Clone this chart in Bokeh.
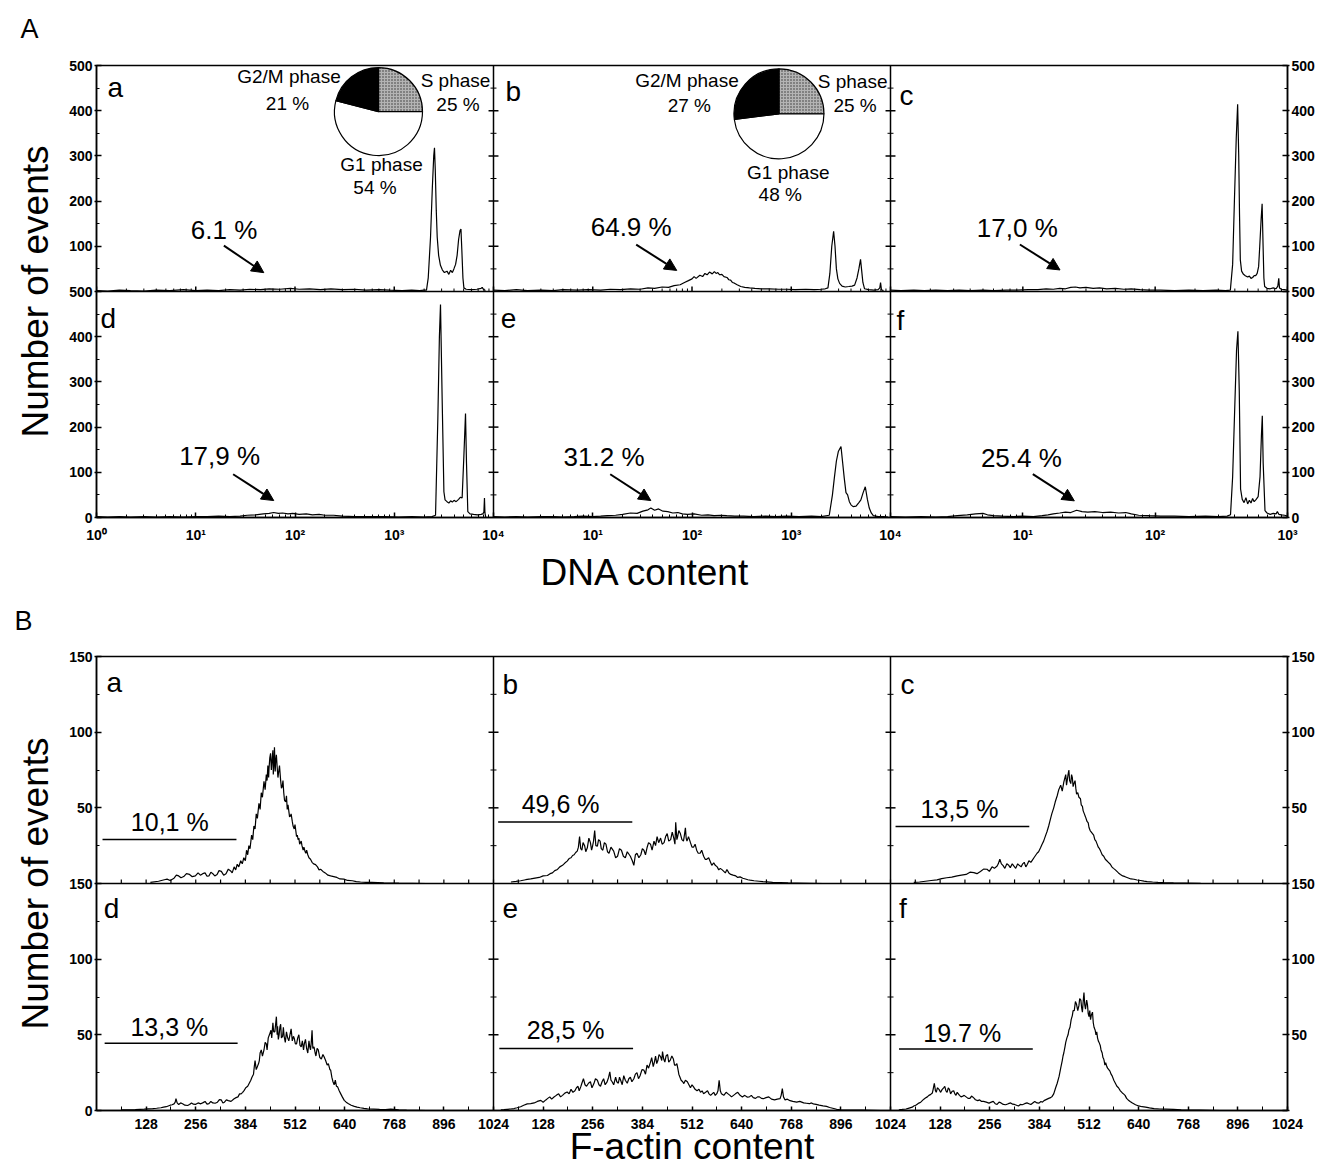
import numpy as np
from bokeh.plotting import figure
from bokeh.models import (Range1d, LogScale, FixedTicker, LinearAxis, Span, Arrow,
                          NormalHead, Title)
from bokeh.layouts import column
from bokeh.embed import file_html
from bokeh.resources import INLINE
from bokeh.core.properties import value

FONT = "Liberation Sans"

# ------------------------------------------------------------------
# DATA  (A: DNA content histograms, log x;  B: F-actin histograms)
# (x, number of events) pairs
# ------------------------------------------------------------------
dna_a = [(1.0,2),(1.3,1),(1.7,3),(2.2,2),(3.0,1),(4.0,3),(5.5,2),(7.5,4),(10,2),(13,3),(17,2),
         (22,4),(28,3),(35,5),(45,4),(55,6),(70,5),(90,7),(110,5),(140,6),(180,4),(230,6),(300,4),
         (400,5),(520,3),(700,4),(900,3),(1200,2),(1500,3),(1800,2),(2000,3),(2113,3),(2200,30),
         (2320,120),(2420,230),(2500,300),(2543,318),(2590,270),(2650,180),(2710,120),(2800,80),
         (2920,58),(3050,48),(3200,42),(3400,45),(3550,38),(3700,47),(3850,42),(3990,50),(4150,60),
         (4300,80),(4450,115),(4600,135),(4700,138),(4800,90),(4920,30),(5030,8),(5300,5),(6000,4),
         (6800,5),(7500,7),(7700,9),(7900,5),(8300,2)]
dna_b = [(1,3),(1.3,2),(1.7,4),(2.2,2),(3,3),(4,2),(5,4),(7,3),(9,4),(12,3),(15,5),(19,4),(24,6),
         (30,5),(36,8),(42,7),(50,10),(58,9),(66,13),(76,15),(84,20),(92,24),(100,28),(105,33),
         (110,29),(120,36),(128,33),(135,40),(142,37),(150,43),(160,39),(168,44),(175,40),(182,42),
         (190,37),(200,38),(210,33),(225,31),(235,26),(245,25),(255,20),(265,19),(285,15),(310,11),
         (340,9),(380,8),(430,7),(500,6),(600,6),(750,5),(900,5),(1100,4),(1400,5),(1700,4),(2000,5),
         (2200,6),(2343,8),(2450,40),(2560,100),(2673,133),(2760,100),(2850,50),(2950,28),(3070,18),
         (3250,12),(3500,10),(3800,11),(4100,12),(4350,14),(4600,30),(4800,50),(4990,71),(5130,45),
         (5270,20),(5480,6),(6000,4),(6800,3),(7500,4),(7800,8),(7940,20),(8100,4),(8500,2)]
dna_c = [(1,3),(1.2,2),(1.5,3),(1.8,2),(2.2,3),(2.7,2),(3.3,3),(4,2),(5,3),(6,2),(7.5,3),(9,3),
         (11,4),(13,4),(15,6),(17,5),(19,7),(21,6),(23,9),(25,10),(27,8),(30,9),(34,7),(38,8),(43,6),
         (50,7),(58,5),(66,6),(77,4),(90,3),(110,3),(140,2),(180,3),(230,2),(290,3),(340,2),(370,3),
         (385,60),(397,200),(410,340),(420,414),(428,300),(434,170),(440,70),(450,45),(465,38),
         (480,35),(500,32),(515,34),(530,29),(545,31),(560,35),(575,35),(590,40),(605,55),(617,100),
         (632,160),(643,194),(654,100),(663,30),(672,11),(700,7),(740,6),(780,8),(820,6),(845,12),
         (859,29),(870,8),(900,5),(950,4),(990,3)]
dna_d = [(1,2),(1.3,1),(1.7,2),(2.2,1),(3,2),(4,1),(5.5,2),(7.5,1),(10,2),(13,2),(17,3),(22,2),
         (28,3),(33,5),(40,6),(48,8),(55,9),(61,11),(68,9),(75,10),(85,8),(95,9),(110,7),(130,8),
         (150,6),(175,7),(200,5),(245,5),(300,3),(400,2),(550,2),(800,2),(1100,1),(1500,2),(2000,1),
         (2400,2),(2606,5),(2750,220),(2850,400),(2924,471),(3040,260),(3164,57),(3250,39),(3400,35),
         (3550,32),(3700,37),(3850,34),(4000,38),(4200,35),(4450,40),(4650,45),(4830,43),(5016,130),
         (5224,230),(5346,120),(5510,13),(5800,8),(6300,7),(6900,6),(7500,7),(7800,8),(8000,12),
         (8110,43),(8200,10),(8350,1)]
dna_e = [(1,2),(1.3,1),(1.7,2),(2.2,1),(3,2),(4,2),(5,1),(6.5,2),(8,3),(10,2),(12,3),(14,4),(17,5),
         (20,7),(24,10),(28,9),(32,14),(36,17),(38.5,21),(42,16),(46,19),(51,14),(57,13),(64,10),
         (72,11),(80,8),(90,7),(105,8),(125,5),(145,6),(167,4),(195,5),(224,4),(270,3),(330,3),
         (420,2),(550,3),(700,2),(900,3),(1200,2),(1600,3),(2000,2),(2415,5),(2600,50),(2716,87),
         (2850,125),(2980,146),(3170,157),(3300,120),(3420,87),(3560,55),(3697,50),(3850,35),
         (4000,28),(4200,24),(4500,25),(4800,33),(5030,39),(5300,55),(5572,68),(5850,40),(6110,21),
         (6400,10),(6710,4),(7500,2),(8500,2),(9500,1)]
dna_f = [(1,2),(1.3,1),(1.7,2),(2.2,1),(2.7,2),(3.2,4),(3.8,6),(4.4,8),(5,9),(5.4,6),(6,4),(7,3),
         (8.5,2),(10,3),(12,2),(14,4),(15.5,6),(17,8),(19,10),(21,12),(23,11),(25.5,16),(28,13),
         (31,12),(35,13),(40,11),(46,12),(53,10),(60,11),(66,8),(75,5),(90,4),(110,3),(140,3),
         (180,2),(240,3),(300,2),(350,3),(371,6),(385,90),(400,250),(412,370),(422,412),(432,280),
         (442,63),(455,40),(470,33),(485,44),(500,30),(515,38),(530,32),(545,42),(560,35),(580,40),
         (600,46),(620,90),(635,180),(645,225),(655,120),(676,15),(700,10),(740,7),(780,9),(820,8),
         (838,13),(860,7),(900,6),(950,5),(1000,3)]

fa_a = [(139,0.7),(160,1.5),(175,2.5),(182,2.9),(190,2),(200,3.5),(206,5.5),(212,5),(218,3.8),(225,4.6),
        (232,6.5),(240,6),(247,4.5),(255,5),(262,7),(268,5.5),(274,6.5),(280,7),(285,4.8),(290,5),
        (295,7.5),(300,6.5),(305,5),(311,6),(316,8.5),(322,8),(328,5.5),(334,6.5),(340,9.5),(346,8.3),
        (350,7),(355,11),(359,9),(363,12.7),(367,11),(372,15),(376,13),(380,17),(384,15),(387,22),
        (390,19),(393,25),(396,23),(400,32),(403,29),(406,38),(409,36),(412,46),(415,43),(419,53),
        (422,49),(425,60),(428,57),(432,67.5),(435,62),(438,72),(440,68),(442,78),(444,70),(445,76),
        (447,83),(449,86),(451,75),(453,82),(455,88),(456,72),(458,80),(459,90),(461,74),(462,80),
        (464,85),(466,77),(468,70),(470,74),(472,78),(475,68),(477,63),(479,64),(481,68),(483,60),
        (485,55),(488,54),(490,58),(492,49),(494,52),(496,48),(498,44),(500,44.5),(502,46),(505,41),
        (507,38),(510,36),(512,39),(514,35),(516,31),(518,32),(520,29),(522,30),(524,26),(526,27),
        (528,28),(530,25),(533,22),(535,24),(538,21),(540,20),(542,22),(545,19),(548,17),(552,16),
        (556,14),(560,13),(565,12.5),(570,11),(574,9),(578,9.4),(584,8),(590,7),(597,5.5),(604,5),
        (612,4.5),(620,4),(628,3),(638,2.9),(648,2),(660,1.8),(670,1.2),(681,1),(695,0.8),(710,0.7),
        (741,0.4),(780,0.2),(850,0)]
fa_b = [(45,1),(58,1.4),(70,1.8),(83,2.5),(96,3),(107,3.6),(118,4),(128,5),(139,5.3),(146,6.5),
        (152,7),(158,8.5),(165,9.3),(171,11),(178,12),(184,13.5),(190,14.8),(195,16.5),(200,17),
        (204,18.5),(208,19),(212,20.5),(216,21.4),(219,24),(222,31),(225,23),(228,22),(231,27),
        (235,25),(238,21),(242,23.6),(246,30),(250,27),(253,22),(255,24),(258,28),(261,35),(264,25),
        (268,24.7),(271,29),(275,28),(278,23),(282,22),(286,27),(290,26),(294,21),(298,20),(303,24),
        (310,21.4),(315,17),(320,18),(325,23),(330,22),(335,18),(340,17),(345,21),(353,18),(358,15),
        (362,12),(366,19),(370,20),(375,17),(380,19),(384,23),(388,22),(392,19),(396,23.6),(400,27),
        (405,26),(409,22),(414,28),(418,25),(422,31),(426,27),(431,30),(435,26),(440,27),(444,31),
        (448,33),(452,28),(457,29),(461,34),(465,30),(468,26),(470,40.5),(473,29),(475,31),(478,35),
        (482,33),(486,29),(490,28),(493,33),(495,36.8),(497,30),(499,28),(503,31),(508,27),(512,24),
        (516,24),(520,26),(524,22),(528,20),(533,20),(537,22),(542,18),(546,16),(550,16),(555,17),
        (559,14.5),(563,12),(568,13.7),(572,12),(577,11),(581,9),(585,10),(590,9),(594,8),(598,7),
        (602,9.3),(607,7),(612,6),(618,5.5),(625,5),(630,4),(636,4.4),(643,3.5),(650,3),(656,2.5),
        (662,2.2),(672,1.8),(685,1.5),(695,1.2),(705,1.1),(720,0.8),(740,0.6),(760,0.4),(782,0.3),
        (850,0)]
fa_c = [(60,0.7),(75,1),(90,1.5),(105,2),(120,2.4),(132,3.2),(145,3.8),(158,4.2),(172,5),(183,5.5),
        (195,6),(205,7.5),(215,7.2),(223,6.5),(232,8),(240,9.5),(249,9.4),(255,8),(262,11),(268,10),
        (275,11.6),(278,13),(282,16),(286,13),(290,12),(295,10),(300,13),(305,12),(309,10.5),(314,13),
        (318,11.6),(323,10),(328,13),(332,12),(337,11),(341,13),(345,14),(349,11),(353,12.7),(357,15),
        (362,14),(366,15.5),(370,17),(374,18.5),(378,20),(382,21),(387,23.6),(391,26),(395,28),(399,31),
        (404,34.5),(408,38),(412,42),(416,46),(421,50),(425,54),(430,58),(434,62),(439,65),(443,61),
        (447,67),(450,70),(452,72),(454,65),(456,68.4),(458,72),(460,75),(462,68),(465,66),(467,72),
        (469,70),(471,64),(473,66),(476,68),(478,63),(480,59),(483,60),(486,57),(490,56),(492,52),
        (495,51),(497,48),(500,46),(503,44),(507,41),(510,40),(512,37),(515,35),(518,34),(521,33),
        (524,32),(527,29),(530,28),(533,26),(536,24),(539,23),(542,21.4),(546,19),(550,18),(554,16),
        (558,15),(562,14),(567,12.7),(571,11),(575,10),(580,9),(584,8),(588,7),(593,6),(599,5),
        (605,4.5),(610,4),(615,3.5),(620,3),(628,2.8),(636,2.3),(645,2),(654,1.6),(662,1.3),(676,1),
        (690,0.8),(705,0.6),(730,0.4),(760,0.3),(800,0.1),(850,0)]
fa_d = [(63,0.4),(80,0.5),(100,0.6),(112,0.8),(123,0.9),(134,1.1),(145,1.3),(155,1.5),(166,1.8),
        (173,2.2),(180,2.5),(185,3),(190,3.5),(195,3.8),(200,4.4),(203,5.5),(205,7.8),(208,5),(212,4),
        (217,5),(222,4.5),(228,3.5),(235,3.3),(240,4),(245,5),(250,4.2),(255,4),(262,5),(269,4.4),
        (275,5.2),(280,6),(285,4.2),(290,4.5),(295,6),(300,5),(306,4.8),(312,5.5),(317,7.2),(322,7),
        (326,5),(330,5.5),(335,7),(340,6.5),(347,6),(355,7.8),(360,8.5),(365,9),(369,11),(373,11),
        (377,12),(381,13.3),(385,15),(390,16),(394,18),(398,20),(401,22),(405,24),(407,29),(409,33),
        (412,27),(415,29),(418,31),(420,33),(422,38),(425,40),(428,36),(432,40),(435,45),(438,44),
        (440,40),(443,48),(446,50),(450,53),(452,48),(455,58),(457,52),(460,52),(462,57),(464,62),
        (466,50),(467,55.6),(469,47),(471,50),(473,55),(475,57),(477,48),(480,49),(482,55),(484,49),
        (487,45),(490,52),(493,48),(496,46),(499,50),(502,54),(505,46),(508,49),(510,47.8),(513,44),
        (516,44),(519,48),(522,50),(525,43),(528,42),(531,46),(534,40),(536,44),(539,47),(542,41),
        (545,38),(548,46),(550,42),(552,40),(554,45),(556,53),(558,41),(561,42),(564,38),(566,36),
        (569,41),(572,40),(576,35),(580,34),(584,37),(587,35.5),(591,33),(595,30),(598,31),(600,29),
        (602,27),(604,26.7),(607,22),(610,19),(613,17),(616,20),(619,16),(622,15.6),(626,13),(630,11),
        (634,9),(639,6.7),(644,5.5),(650,4.5),(657,3.5),(665,2.7),(672,2.2),(680,1.8),(690,1.4),
        (699,1.1),(715,0.9),(730,0.7),(745,0.6),(759,0.9),(780,0.5),(800,0.3),(850,0)]
fa_e = [(19,0.5),(27,0.6),(35,0.8),(44,1),(53,1.3),(61,1.8),(70,2.5),(78,3.5),(87,4.4),(96,4.5),
        (105,5),(113,6),(122,6.7),(128,5.5),(135,7),(140,8),(145,9),(150,7.5),(156,8.9),(162,10),
        (168,11),(173,9),(178,10),(184,11.5),(190,12.2),(195,11),(200,14),(205,12),(210,13),(214,15),
        (218,16),(221,13),(225,15.6),(228,18),(232,21),(236,17),(240,16),(245,18),(250,19),(254,15),
        (259,17.8),(263,21),(268,20),(272,17),(276,16),(280,19),(284,21),(288,17),(293,18.9),(297,22),
        (300,25.6),(303,20),(306,19),(310,17),(315,22),(318,19),(322,18),(325,22),(328,20),(332,17),
        (336,23),(340,20),(345,18),(349,21),(353,22),(357,19),(362,21),(366,24),(370,25),(374,21),
        (378,23),(383,27),(388,26.7),(392,24),(396,30),(400,28),(405,32),(408,35),(412,29),(415,32),
        (418,36),(421,31),(424,33),(427,37),(431,35.5),(434,33),(436,39),(439,34),(442,32),(445,36),
        (449,37),(452,32),(456,33.3),(460,36),(464,34),(467,30),(470,30),(473,31),(476,27),(478,24),
        (481,22),(484,20),(488,19),(491,17.8),(495,20),(500,19),(504,17),(508,15),(512,17),(516,15.6),
        (520,14),(525,13),(530,14),(534,12),(538,13),(542,11.1),(547,12),(552,13),(556,11),(560,10),
        (564,11),(568,12),(572,10),(576,11.1),(579,13),(582,20),(585,13),(588,11),(594,10),(600,12),
        (605,11),(610,10),(614,9),(619,10),(624,11),(630,12),(636,10),(642,9),(648,10),(654,8.9),
        (660,9),(665,10),(670,8.5),(676,8),(681,9),(686,9),(691,8),(696,7.8),(703,8.5),(710,9),
        (717,7.5),(725,7),(732,7.5),(739,7.8),(742,10),(745,14.4),(748,9),(752,7),(758,7.5),(765,6.5),
        (772,6),(782,5.5),(790,6),(800,5),(807,4.8),(815,4.5),(820,5),(825,4.4),(832,4),(840,3.5),
        (850,3),(859,2.7),(867,2),(875,1.5),(885,0.8),(894,0.4),(920,0.3),(950,0.2),(1000,0)]
fa_f = [(21.5,0.5),(30,0.7),(40,1),(48,1.6),(56,2.2),(60,3),(65,3.5),(69,4.2),(73,4.9),(78,5.5),
        (82,6.5),(86,7.5),(90,8.2),(95,9),(99,10),(103,10.5),(108,11.6),(110,14),(113,18),(116,13),
        (118,12),(121,15),(125,14),(129,12),(133,13.8),(137,15),(140,16),(143,13),(146,12),(149,15),
        (152,14),(155,11),(159,12.7),(163,13),(166,11),(169,10),(172,12),(175,11),(178,10),(182,9),
        (185,9.3),(190,10),(195,9),(200,8),(205,8),(209,9.5),(212,9),(216,8),(219,7.1),(225,6.5),
        (230,7),(235,6),(240,6),(247,5.5),(254,4.9),(260,5.5),(265,6),(270,4.5),(275,4),(280,5.5),
        (285,5),(291,4),(297,3.8),(304,4.5),(310,5),(315,4.2),(320,4),(325,3.5),(330,3),(335,4),
        (340,3.8),(346,4.5),(352,5),(357,4.5),(362,4),(367,5),(372,6),(378,5),(383,4.9),(388,6),
        (392,5.5),(396,6.5),(400,7),(404,7.5),(408,8),(413,8.5),(417,9.3),(421,11),(426,15),(430,18),
        (435,22.7),(439,28),(443,33),(445,36),(447,38),(450,42),(452,45),(455,48),(458,50),(460,53),
        (463,55),(466,60),(469,62.7),(471,66),(474,66),(477,72),(480,70),(483,66),(486,69.3),(488,74),
        (491,73),(493,68),(495,65),(497,72),(499,78),(501,70),(503,67),(506,73),(508,70),(510,64),
        (512,62),(514,66),(516,60),(518,63),(521,65),(523,58),(525,55),(528,53),(530,50),(532,52),
        (534,48),(536,46),(538,45),(541,43),(543,40),(546,38),(548,35),(550,34),(551,33),(553,30),
        (555,31.6),(558,29),(560,28),(563,27),(566,26),(569,24),(572,22.7),(576,20),(580,18),(584,16),
        (588,15),(593,13),(598,11.6),(601,11),(605,10),(609,8),(613,7),(618,6),(624,4.9),(632,3.8),
        (640,3),(649,2.5),(658,2.2),(668,1.7),(680,1.3),(695,1),(710,0.9),(730,0.7),(750,0.5),
        (775,0.3),(796,0.2),(850,0)]

# cell-cycle pies (S, G1, G2/M)
pie_phases = ["S phase", "G1 phase", "G2/M phase"]
pie_a_values = [25, 54, 21]
pie_b_values = [25, 48, 27]

dna_pct = ["6.1 %", "64.9 %", "17,0 %", "17,9 %", "31.2 %", "25.4 %"]
fa_pct = ["10,1 %", "49,6 %", "13,5 %", "13,3 %", "28,5 %", "19.7 %"]
panel_letters = ["a", "b", "c", "d", "e", "f"]

dna_tick_labels_4 = ["10\u2070", "10\u00b9", "10\u00b2", "10\u00b3", "10\u2074"]
dna_tick_labels_3 = ["10\u2070", "10\u00b9", "10\u00b2", "10\u00b3"]
fa_tick_labels = ["128", "256", "384", "512", "640", "768", "896", "1024"]
dna_y_labels = ["0", "100", "200", "300", "400", "500"]
fa_y_labels = ["0", "50", "100", "150"]


# ------------------------------------------------------------------
def xy(pts):
    return [p[0] for p in pts], [p[1] for p in pts]


def style_axis(ax):
    ax.axis_line_width = 1.5
    ax.axis_line_color = "black"
    ax.major_tick_line_width = 1.5
    ax.minor_tick_line_width = 1
    ax.major_tick_in = 5
    ax.major_tick_out = 2
    ax.minor_tick_in = 3
    ax.minor_tick_out = 0
    ax.major_label_text_font = FONT
    ax.major_label_text_font_style = "bold"
    ax.major_label_text_font_size = "14px"
    ax.major_label_text_color = "black"
    ax.major_label_standoff = 2
    ax.axis_label_text_font = FONT
    ax.axis_label_text_font_style = "normal"
    ax.axis_label_text_color = "black"


def base_fig(height, xr, yr, top, bottom):
    p = figure(width=1320, height=height, x_range=Range1d(*xr), y_range=Range1d(*yr),
               x_axis_type=None, y_axis_type=None, output_backend="svg", title=None,
               toolbar_location=None, min_border_left=96, min_border_right=33,
               min_border_top=top, min_border_bottom=bottom)
    p.outline_line_color = "black"
    p.outline_line_width = 1.5
    p.background_fill_color = "white"
    p.border_fill_color = "white"
    return p


def header_fig(height, letter, x, y):
    # thin strip above a section that carries its section letter
    h = figure(width=1320, height=height, x_range=Range1d(0, 1320), y_range=Range1d(0, height),
               x_axis_type=None, y_axis_type=None, output_backend="svg", title=None,
               toolbar_location=None, min_border=0)
    h.frame_align = False
    h.outline_line_color = None
    h.background_fill_color = "white"
    h.border_fill_color = "white"
    h.text(x=[x], y=[y], text=[letter], text_font=value(FONT), text_font_size="27px",
           text_align="left", text_baseline="alphabetic", text_color="black", y_offset=-10)
    return h


def add_axes(p, yticks, yminor, ylab_l, ylab_r, xticks, xminor, xlab, xstand):
    left = LinearAxis(ticker=FixedTicker(ticks=yticks, minor_ticks=yminor),
                      major_label_overrides=ylab_l)
    right = LinearAxis(ticker=FixedTicker(ticks=yticks, minor_ticks=yminor),
                       major_label_overrides=ylab_r)
    below = LinearAxis(ticker=FixedTicker(ticks=xticks, minor_ticks=xminor),
                       major_label_overrides=xlab)
    for ax in (left, right, below):
        style_axis(ax)
    below.major_tick_out = 0
    below.major_label_standoff = xstand
    left.axis_label = "Number of events"
    left.axis_label_text_font_size = "37px"
    left.axis_label_standoff = 10
    p.add_layout(left, "left")
    p.add_layout(right, "right")
    p.add_layout(below, "below")
    return left, right, below


def add_text(p, x, y, txt, xr, yr, size, align):
    # y_offset compensates Bokeh's baseline placement of text glyphs
    p.text(x=[x], y=[y], text=[txt], x_range_name=xr, y_range_name=yr,
           text_font=value(FONT), text_font_size=f"{size}px", text_align=align,
           text_baseline="alphabetic", text_color="black", y_offset=-round(0.36 * size))


# ============================ SECTION A ============================
hA = header_fig(45, "A", 20, 7)

pA = base_fig(551, (0, 36), (0, 1000), 20, 77)
pA.extra_x_ranges = {"c1": Range1d(1, 1e12), "c2": Range1d(1e-4, 1e8), "c3": Range1d(1e-6, 1e3)}
pA.extra_x_scales = {"c1": LogScale(), "c2": LogScale(), "c3": LogScale()}
pA.extra_y_ranges = {"r1": Range1d(-500, 500), "r2": Range1d(0, 1000)}

yt_A = list(range(0, 1001, 100))
ym_A = list(range(50, 1000, 100))
ylab_A = {t: (dna_y_labels[t // 100] if t <= 500 else dna_y_labels[(t - 500) // 100]) for t in yt_A}
xt_A = [0, 3, 6, 9, 12, 15, 18, 21, 24, 28, 32, 36]
xlab_names_A = dna_tick_labels_4 + dna_tick_labels_4[1:] + dna_tick_labels_3[1:]
xlab_A = {t: s for t, s in zip(xt_A, xlab_names_A)}
lm = np.log10(np.arange(2, 10))
xm_A = ([3 * (k + m) for k in range(4) for m in lm] +
        [12 + 3 * (k + m) for k in range(4) for m in lm] +
        [24 + 4 * (k + m) for k in range(3) for m in lm])
add_axes(pA, yt_A, ym_A, ylab_A, dict(ylab_A), xt_A, xm_A, xlab_A, 9)

pA.add_layout(Title(text="DNA content", align="left", offset=444, standoff=8, text_font=FONT,
                    text_font_size="37px", text_font_style="normal", text_color="black"), "below")

# interior frame lines and ticks
pA.add_layout(Span(location=500, dimension="width", line_color="black", line_width=1.5))
for xb in (12, 24):
    pA.add_layout(Span(location=xb, dimension="height", line_color="black", line_width=1.5))
pA.segment(x0=xt_A, x1=xt_A, y0=[500] * len(xt_A), y1=[511] * len(xt_A), line_color="black", line_width=1.5)
pA.segment(x0=xm_A, x1=xm_A, y0=[500] * len(xm_A), y1=[506.6] * len(xm_A), line_color="black", line_width=1)
maj_y = [t for t in yt_A if t not in (0, 500, 1000)]
for xb in (12, 24):
    pA.segment(x0=[xb - 0.15] * len(maj_y), x1=[xb + 0.15] * len(maj_y), y0=maj_y, y1=maj_y,
               line_color="black", line_width=1.5)
    pA.segment(x0=[xb - 0.09] * len(ym_A), x1=[xb + 0.09] * len(ym_A), y0=ym_A, y1=ym_A,
               line_color="black", line_width=1)

A_panels = [
    dict(data=dna_a, xr="c1", yr="r1", letter=(1.29, 430), pct=(19.3, 116), arr=((19.2, 101.5), (48.5, 41.7))),
    dict(data=dna_b, xr="c2", yr="r1", letter=(1.32, 420), pct=(24.4, 122), arr=((27.4, 103.7), (70.2, 46.7))),
    dict(data=dna_c, xr="c3", yr="r1", letter=(1.17, 412), pct=(9.08, 121), arr=((9.5, 104), (19.1, 47.7))),
    dict(data=dna_d, xr="c1", yr="r2", letter=(1.10, 418), pct=(17.4, 116), arr=((23.8, 95.7), (61.1, 37.5))),
    dict(data=dna_e, xr="c2", yr="r2", letter=(1.18, 418), pct=(13.0, 114), arr=((15.0, 95.7), (38.5, 37.5))),
    dict(data=dna_f, xr="c3", yr="r2", letter=(1.11, 414), pct=(9.75, 112.7), arr=((11.9, 95.8), (24.5, 36.8))),
]
for i, pn in enumerate(A_panels):
    x, y = xy(pn["data"])
    pA.line(x, y, x_range_name=pn["xr"], y_range_name=pn["yr"], line_color="black", line_width=1.2)
    add_text(pA, pn["letter"][0], pn["letter"][1], panel_letters[i], pn["xr"], pn["yr"], 28, "left")
    add_text(pA, pn["pct"][0], pn["pct"][1], dna_pct[i], pn["xr"], pn["yr"], 26, "center")
    (xs, ys), (xe, ye) = pn["arr"]
    pA.add_layout(Arrow(x_start=xs, y_start=ys, x_end=xe, y_end=ye, line_width=2, line_color="black",
                        end=NormalHead(size=12, fill_color="black", line_color="black", line_width=1),
                        x_range_name=pn["xr"], y_range_name=pn["yr"]))

# pies
pies = [
    dict(vals=pie_a_values, xr="c1", center=(694, 398), r=44,
         lab_pos=[(4140, 452), (744, 265), (87, 460)], val_pos=[(4390, 399), (640, 215), (84, 401)]),
    dict(vals=pie_b_values, xr="c2", center=(752, 393), r=45,
         lab_pos=[(4150, 450), (933, 248), (89, 452)], val_pos=[(4400, 395), (775, 200), (94, 397)]),
]
for pie in pies:
    frac = np.array(pie["vals"], dtype=float) / sum(pie["vals"])
    cum = np.cumsum(frac)
    starts = np.pi / 2 - 2 * np.pi * (cum - frac)
    ends = np.pi / 2 - 2 * np.pi * cum
    n = len(frac)
    pA.wedge(x=[pie["center"][0]] * n, y=[pie["center"][1]] * n, radius=pie["r"], radius_units="screen",
             start_angle=list(starts), end_angle=list(ends), direction="clock",
             fill_color=["#b4b4b4", "white", "black"], hatch_pattern=["dot", "blank", "blank"],
             hatch_color="#333333", hatch_scale=3, hatch_weight=1,
             line_color="black", line_width=1.2, x_range_name=pie["xr"], y_range_name="r1")
    for j in range(n):
        add_text(pA, pie["lab_pos"][j][0], pie["lab_pos"][j][1], pie_phases[j], pie["xr"], "r1", 19, "center")
        add_text(pA, pie["val_pos"][j][0], pie["val_pos"][j][1], f"{pie['vals'][j]} %", pie["xr"], "r1", 19, "center")

# ============================ SECTION B ============================
hB = header_fig(44, "B", 14, 10)

pB = base_fig(531, (0, 3072), (0, 300), 16, 61)
pB.extra_x_ranges = {"c1": Range1d(0, 3072), "c2": Range1d(-1024, 2048), "c3": Range1d(-2048, 1024)}
pB.extra_y_ranges = {"r1": Range1d(-150, 150), "r2": Range1d(0, 300)}

yt_B = list(range(0, 301, 50))
ym_B = list(range(25, 300, 50))
ylab_B = {t: (fa_y_labels[t // 50] if t <= 150 else fa_y_labels[(t - 150) // 50]) for t in yt_B}
ylab_B_r = dict(ylab_B)
ylab_B_r[0] = ""
xt_B = list(range(128, 3073, 128))
xlab_B = {t: s for t, s in zip(xt_B, fa_tick_labels * 3)}
xm_B = list(range(64, 3072, 128))
_, _, belowB = add_axes(pB, yt_B, ym_B, ylab_B, ylab_B_r, xt_B, xm_B, xlab_B, 8)
belowB.major_tick_in = 4
belowB.minor_tick_in = 4
belowB.axis_label = "F-actin content"
belowB.axis_label_text_font_size = "37px"
belowB.axis_label_standoff = -6

pB.add_layout(Span(location=150, dimension="width", line_color="black", line_width=1.5))
for xb in (1024, 2048):
    pB.add_layout(Span(location=xb, dimension="height", line_color="black", line_width=1.5))
row_ticks = list(range(64, 3072, 64))
pB.segment(x0=row_ticks, x1=row_ticks, y0=[150] * len(row_ticks), y1=[152.7] * len(row_ticks),
           line_color="black", line_width=1.2)
maj_yB = [t for t in yt_B if t not in (0, 150, 300)]
for xb in (1024, 2048):
    pB.segment(x0=[xb - 12.9] * len(maj_yB), x1=[xb + 12.9] * len(maj_yB), y0=maj_yB, y1=maj_yB,
               line_color="black", line_width=1.5)
    pB.segment(x0=[xb - 7.7] * len(ym_B), x1=[xb + 7.7] * len(ym_B), y0=ym_B, y1=ym_B,
               line_color="black", line_width=1)

B_panels = [
    dict(data=fa_a, xr="c1", yr="r1", letter=(26, 126), pct=(189, 34.4), bar=(15.5, 361, 29)),
    dict(data=fa_b, xr="c2", yr="r1", letter=(23, 125), pct=(173, 46.5), bar=(12, 358, 40.6)),
    dict(data=fa_c, xr="c3", yr="r1", letter=(26, 125), pct=(178, 43.2), bar=(13, 358, 37.7)),
    dict(data=fa_d, xr="c1", yr="r2", letter=(19, 127), pct=(188, 49.5), bar=(21, 364, 44.5)),
    dict(data=fa_e, xr="c2", yr="r2", letter=(23, 127), pct=(186, 47.0), bar=(15, 360, 41)),
    dict(data=fa_f, xr="c3", yr="r2", letter=(22, 127), pct=(185, 45.5), bar=(22, 367, 40.7)),
]
for i, pn in enumerate(B_panels):
    x, y = xy(pn["data"])
    pB.line(x, y, x_range_name=pn["xr"], y_range_name=pn["yr"], line_color="black", line_width=1.2)
    add_text(pB, pn["letter"][0], pn["letter"][1], panel_letters[i], pn["xr"], pn["yr"], 28, "left")
    add_text(pB, pn["pct"][0], pn["pct"][1], fa_pct[i], pn["xr"], pn["yr"], 25, "center")
    b0, b1, by = pn["bar"]
    pB.segment(x0=[b0], x1=[b1], y0=[by], y1=[by], x_range_name=pn["xr"], y_range_name=pn["yr"],
               line_color="black", line_width=1.5)

layout = column(hA, pA, hB, pB, spacing=0)
open("out.html", "w").write(file_html(layout, INLINE))
